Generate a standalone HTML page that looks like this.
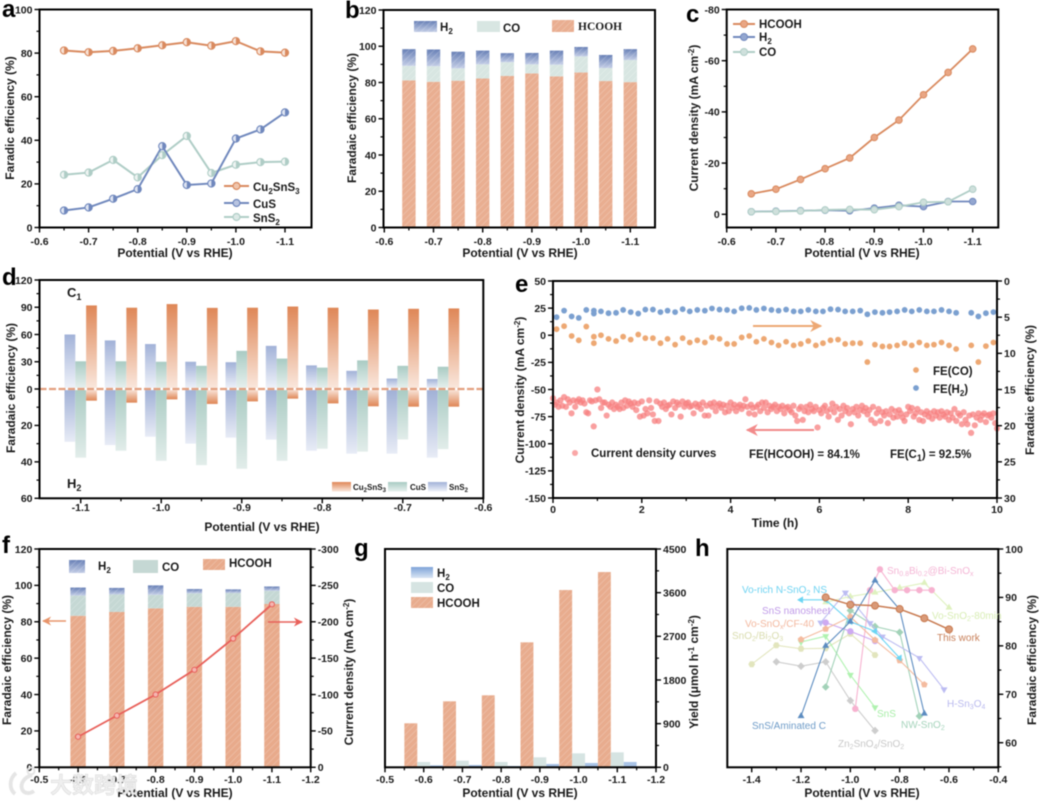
<!DOCTYPE html>
<html lang="en">
<head>
<meta charset="utf-8">
<title>Faradaic efficiency and electrocatalysis panels</title>
<style>
html,body{margin:0;padding:0;background:#fff;width:1040px;height:801px;overflow:hidden}
svg{display:block;filter:blur(0.6px)}
text{font-family:"Liberation Sans","Noto Sans CJK SC",sans-serif;font-weight:bold;fill:#1a1a1a}
.tick{font-size:10.5px}
.title{font-size:12px}
.letter{font-size:24px;fill:#000}
.leg{font-size:11.5px}
.small{font-size:8px}
.serif{font-family:"Liberation Serif",serif}
.lab{font-size:10px;font-weight:normal}
</style>
</head>
<body>
<svg id="figure" xmlns="http://www.w3.org/2000/svg" width="1040" height="801" viewBox="0 0 1040 801">
<defs>
<pattern id="hatch" width="4.5" height="4.5" patternUnits="userSpaceOnUse" patternTransform="rotate(45)"><rect width="1" height="4.5" fill="#fff" fill-opacity="0.18"/></pattern>
<linearGradient id="h2Grad" x1="0" y1="0" x2="0" y2="1"><stop offset="0" stop-color="#6880b6"/><stop offset="1" stop-color="#c3cde6"/></linearGradient>
<linearGradient id="h2GradG" x1="0" y1="0" x2="0" y2="1"><stop offset="0" stop-color="#7fa4d8"/><stop offset="1" stop-color="#d8e4f4"/></linearGradient>
<linearGradient id="snTop" x1="0" y1="0" x2="0" y2="1"><stop offset="0" stop-color="#a2b2d8"/><stop offset="1" stop-color="#f0f3fa"/></linearGradient>
<linearGradient id="snBot" x1="0" y1="0" x2="0" y2="1"><stop offset="0" stop-color="#a0b0d6"/><stop offset="1" stop-color="#e8ecf6"/></linearGradient>
<linearGradient id="cuTop" x1="0" y1="0" x2="0" y2="1"><stop offset="0" stop-color="#a9cbc3"/><stop offset="1" stop-color="#e8f1ef"/></linearGradient>
<linearGradient id="cuBot" x1="0" y1="0" x2="0" y2="1"><stop offset="0" stop-color="#a9cbc3"/><stop offset="1" stop-color="#e2edea"/></linearGradient>
<linearGradient id="czTop" x1="0" y1="0" x2="0" y2="1"><stop offset="0" stop-color="#df8757"/><stop offset="1" stop-color="#fae8de"/></linearGradient>
<linearGradient id="czBot" x1="0" y1="0" x2="0" y2="1"><stop offset="0" stop-color="#fae8de"/><stop offset="1" stop-color="#df8757"/></linearGradient>
<marker id="arrowO" viewBox="0 0 10 10" refX="9" refY="5" markerWidth="14" markerHeight="12" markerUnits="userSpaceOnUse" orient="auto"><path d="M0 0L10 5L0 10L3 5Z" fill="#eda873"/></marker>
<marker id="arrowR" viewBox="0 0 10 10" refX="9" refY="5" markerWidth="14" markerHeight="12" markerUnits="userSpaceOnUse" orient="auto"><path d="M0 0L10 5L0 10L3 5Z" fill="#f28a8a"/></marker>
<marker id="arrowS" viewBox="0 0 10 10" refX="9" refY="5" markerWidth="11" markerHeight="9" markerUnits="userSpaceOnUse" orient="auto"><path d="M0 0L10 5L0 10L3 5Z" fill="#e8946a"/></marker>
<marker id="arrowT" viewBox="0 0 10 10" refX="9" refY="5" markerWidth="11" markerHeight="9" markerUnits="userSpaceOnUse" orient="auto"><path d="M0 0L10 5L0 10L3 5Z" fill="#e8605a"/></marker>
</defs>

<g id="panel-a"></g>
<g id="panel-b"></g>
<g id="panel-c"></g>
<g id="panel-d"></g>
<g id="panel-e"></g>
<g id="panel-f"></g>
<g id="panel-g"></g>
<g id="panel-h"></g>

<!-- panel letters -->
<text class="letter" x="2" y="17">a</text>
<text class="letter" x="345" y="18">b</text>
<text class="letter" x="686" y="22">c</text>
<text class="letter" x="2" y="285">d</text>
<text class="letter" x="515" y="292">e</text>
<text class="letter" x="2" y="553">f</text>
<text class="letter" x="354" y="556">g</text>
<text class="letter" x="695" y="556">h</text>

<!-- axis titles -->
<text class="title" text-anchor="middle" x="175" y="257">Potential (V vs RHE)</text>
<text class="title" text-anchor="middle" x="520" y="257">Potential (V vs RHE)</text>
<text class="title" text-anchor="middle" x="862" y="257">Potential (V vs RHE)</text>
<text class="title" text-anchor="middle" x="262" y="531">Potential (V vs RHE)</text>
<text class="title" text-anchor="middle" x="775" y="527">Time (h)</text>
<text class="title" text-anchor="middle" x="175" y="797">Potential (V vs RHE)</text>
<text class="title" text-anchor="middle" x="520" y="797">Potential (V vs RHE)</text>
<text class="title" text-anchor="middle" x="862" y="797">Potential (V vs RHE)</text>

<text class="title" text-anchor="middle" transform="translate(14,118) rotate(-90)">Faradic efficiency (%)</text>
<text class="title" text-anchor="middle" transform="translate(356,118) rotate(-90)">Faradaic efficiency (%)</text>
<text class="title" text-anchor="middle" transform="translate(698,118) rotate(-90)">Current density (mA cm<tspan font-size="8" dy="-4">-2</tspan><tspan dy="4">)</tspan></text>
<text class="title" text-anchor="middle" transform="translate(15,388) rotate(-90)">Faradaic efficiency (%)</text>
<text class="title" text-anchor="middle" transform="translate(524,390) rotate(-90)">Current density (mA cm<tspan font-size="8" dy="-4">-2</tspan><tspan dy="4">)</tspan></text>
<text class="title" text-anchor="middle" transform="translate(1034,390) rotate(-90)">Faradaic efficiency (%)</text>
<text class="title" text-anchor="middle" transform="translate(11,660) rotate(-90)">Faradaic efficiency (%)</text>
<text class="title" text-anchor="middle" transform="translate(353,672) rotate(-90)">Current density (mA cm<tspan font-size="8" dy="-4">-2</tspan><tspan dy="4">)</tspan></text>
<text class="title" text-anchor="middle" transform="translate(698,672) rotate(-90)">Yield (μmol h<tspan font-size="8" dy="-4">-1</tspan><tspan dy="4"> cm</tspan><tspan font-size="8" dy="-4">-2</tspan><tspan dy="4">)</tspan></text>
<text class="title" text-anchor="middle" transform="translate(1036,660) rotate(-90)">Faradaic efficiency (%)</text>

<!-- legend a -->
<g>
<line x1="224" x2="249" y1="186" y2="186" stroke="#d98a5f" stroke-width="2"/>
<circle cx="236.5" cy="186" r="3.5" fill="#f0c5ac" stroke="#d98a5f" stroke-width="1.2"/>
<text class="leg" x="253" y="191">Cu<tspan font-size="8" dy="3">2</tspan><tspan dy="-3">SnS</tspan><tspan font-size="8" dy="3">3</tspan></text>
<line x1="224" x2="249" y1="203" y2="203" stroke="#7088bd" stroke-width="2"/>
<circle cx="236.5" cy="203" r="3.5" fill="#b8c4e0" stroke="#7088bd" stroke-width="1.2"/>
<text class="leg" x="253" y="208">CuS</text>
<line x1="224" x2="249" y1="217" y2="217" stroke="#afcdc6" stroke-width="2"/>
<circle cx="236.5" cy="217" r="3.5" fill="#dce9e6" stroke="#afcdc6" stroke-width="1.2"/>
<text class="leg" x="253" y="222">SnS<tspan font-size="8" dy="3">2</tspan></text>
</g>

<!-- legend b -->
<g>
<rect x="414" y="21" width="23" height="11" fill="url(#h2Grad)"/>
<rect x="414" y="21" width="23" height="11" fill="url(#hatch)"/>
<text class="leg" x="440" y="31">H<tspan font-size="8" dy="3">2</tspan></text>
<rect x="477" y="21" width="23" height="11" fill="#d8e6e2"/>
<text class="leg" x="503" y="32">CO</text>
<rect x="552" y="20" width="22" height="12" fill="#e9ae91"/>
<rect x="552" y="20" width="22" height="12" fill="url(#hatch)"/>
<text class="leg serif" x="578" y="30">HCOOH</text>
</g>

<!-- legend c -->
<g>
<line x1="733" x2="755" y1="24" y2="24" stroke="#d98a5f" stroke-width="2"/>
<circle cx="744" cy="24" r="3.5" fill="#e9a684" stroke="#d98a5f"/>
<text class="leg" x="759" y="28">HCOOH</text>
<line x1="733" x2="755" y1="37" y2="37" stroke="#7088bd" stroke-width="2"/>
<circle cx="744" cy="37" r="3.5" fill="#93a6d0" stroke="#7088bd"/>
<text class="leg" x="759" y="41">H<tspan font-size="8" dy="3">2</tspan></text>
<line x1="733" x2="755" y1="52" y2="52" stroke="#afcdc6" stroke-width="2"/>
<circle cx="744" cy="52" r="3.5" fill="#cfe0dc" stroke="#afcdc6"/>
<text class="leg" x="759" y="56">CO</text>
</g>

<!-- legend d -->
<g>
<text x="67" y="297" font-size="13">C<tspan font-size="9" dy="3">1</tspan></text>
<text x="67" y="488" font-size="13">H<tspan font-size="9" dy="3">2</tspan></text>
<rect x="332" y="482" width="19" height="9.5" fill="url(#czTop)"/>
<text class="small" x="353" y="490">Cu<tspan font-size="6" dy="2">2</tspan><tspan dy="-2">SnS</tspan><tspan font-size="6" dy="2">3</tspan></text>
<rect x="388" y="482" width="19" height="9.5" fill="url(#cuTop)"/>
<text class="small" x="410" y="490">CuS</text>
<rect x="428" y="482" width="19" height="9.5" fill="url(#snTop)"/>
<text class="small" x="449" y="490">SnS<tspan font-size="6" dy="2">2</tspan></text>
</g>

<!-- annotations e -->
<g>
<line x1="753" x2="821" y1="326" y2="326" stroke="#eda873" stroke-width="2" marker-end="url(#arrowO)"/>
<line x1="814" x2="747" y1="430" y2="430" stroke="#f28a8a" stroke-width="2" marker-end="url(#arrowR)"/>
<circle cx="575" cy="453" r="3" fill="#f88a8a" fill-opacity="0.75"/>
<text class="leg" x="591" y="457">Current density curves</text>
<text class="leg" x="749" y="458">FE(HCOOH) = 84.1%</text>
<text class="leg" x="890" y="458">FE(C<tspan font-size="9" dy="3">1</tspan><tspan dy="-3">) = 92.5%</tspan></text>
<circle cx="916" cy="370" r="2.9" fill="#eda873"/>
<text class="leg" x="933" y="375">FE(CO)</text>
<circle cx="916" cy="388" r="2.9" fill="#7ba0d0"/>
<text class="leg" x="933" y="393">FE(H<tspan font-size="8" dy="3">2</tspan><tspan dy="-3">)</tspan></text>
</g>

<!-- legend f -->
<g>
<rect x="69" y="560" width="16" height="13" fill="url(#h2Grad)"/>
<rect x="69" y="560" width="16" height="13" fill="url(#hatch)"/>
<text class="leg" x="98" y="570">H<tspan font-size="8" dy="3">2</tspan></text>
<rect x="133" y="560" width="25" height="13" fill="#c5d8d4"/>
<text class="leg" x="162" y="571">CO</text>
<rect x="203" y="559" width="22" height="11" fill="#e8aa8b"/>
<rect x="203" y="559" width="22" height="11" fill="url(#hatch)"/>
<text class="leg" x="229" y="567">HCOOH</text>
<line x1="66" x2="43" y1="621" y2="621" stroke="#e8946a" stroke-width="1.5" marker-end="url(#arrowS)"/>
<line x1="268" x2="302" y1="622" y2="622" stroke="#e8605a" stroke-width="1.5" marker-end="url(#arrowT)"/>
</g>

<!-- legend g -->
<g>
<rect x="411" y="567" width="22" height="11" fill="url(#h2GradG)"/>
<text class="leg" x="437" y="577">H<tspan font-size="8" dy="3">2</tspan></text>
<rect x="411" y="582" width="22" height="11" fill="#d6e4e2"/>
<text class="leg" x="437" y="592">CO</text>
<rect x="411" y="597" width="22" height="11" fill="#e8ac8e"/>
<rect x="411" y="597" width="22" height="11" fill="url(#hatch)"/>
<text class="leg" x="437" y="607">HCOOH</text>
</g>

<!-- labels h -->
<g>
<text class="lab" x="887" y="574" style="fill:#f4b5d5">Sn<tspan font-size="7" dy="2">0.8</tspan><tspan dy="-2">Bi</tspan><tspan font-size="7" dy="2">0.2</tspan><tspan dy="-2">@Bi-SnO</tspan><tspan font-size="7" dy="2">x</tspan></text>
<text class="lab" x="742" y="593" style="fill:#6fd3f2">Vo-rich N-SnO<tspan font-size="7" dy="2">2</tspan><tspan dy="-2"> NS</tspan></text>
<text class="lab" x="762" y="614" style="fill:#c09be8">SnS nanosheet</text>
<text class="lab" x="745" y="627" style="fill:#f3b89f">Vo-SnO<tspan font-size="7" dy="2">x</tspan><tspan dy="-2">/CF-40</tspan></text>
<text class="lab" x="732" y="639" style="fill:#d9dcae">SnO<tspan font-size="7" dy="2">2</tspan><tspan dy="-2">/Bi</tspan><tspan font-size="7" dy="2">2</tspan><tspan dy="-2">O</tspan><tspan font-size="7" dy="2">3</tspan></text>
<text class="lab" x="937" y="641" style="fill:#c8805a">This work</text>
<text class="lab" x="932" y="619" style="fill:#d8edb4">Vo-SnO<tspan font-size="7" dy="2">2</tspan><tspan dy="-2">-80min</tspan></text>
<text class="lab" x="947" y="707" style="fill:#b9b9ee">H-Sn<tspan font-size="7" dy="2">3</tspan><tspan dy="-2">O</tspan><tspan font-size="7" dy="2">4</tspan></text>
<text class="lab" x="877" y="717" style="fill:#a8eea8">SnS</text>
<text class="lab" x="901" y="728" style="fill:#a6d4bc">NW-SnO<tspan font-size="7" dy="2">2</tspan></text>
<text class="lab" x="752" y="729" style="fill:#6f9cc8">SnS/Aminated C</text>
<text class="lab" x="838" y="747" style="fill:#c8c8c8">Zn<tspan font-size="7" dy="2">2</tspan><tspan dy="-2">SnO</tspan><tspan font-size="7" dy="2">4</tspan><tspan dy="-2">/SnO</tspan><tspan font-size="7" dy="2">2</tspan></text>
</g>

<!-- watermark -->
<g id="watermark" opacity="0.95">
<path d="M16 773C9 779 9 789 15 794M32 775C25 777 20 783 22 789C24 794 30 794 34 791" fill="none" stroke="#e4e4e4" stroke-width="3.8"/>
<circle cx="31" cy="771" r="3.5" fill="none" stroke="#e4e4e4" stroke-width="2"/>
<text x="50" y="793" font-size="22" style="fill:#efefef;stroke:#d6d6d6;stroke-width:0.5;font-weight:bold">大数跨境</text>
</g>

<script>
/* ---------- shared categories ---------- */
const potentials10 = [-0.65,-0.7,-0.75,-0.8,-0.85,-0.9,-0.95,-1.0,-1.05,-1.1];
const potentials6 = [-0.6,-0.7,-0.8,-0.9,-1.0,-1.1];
const potentialsD = [-1.1,-1.05,-1.0,-0.95,-0.9,-0.85,-0.8,-0.75,-0.7,-0.65];

/* ---------- panel a ---------- */
const aCu2SnS3 = [81.2,80.4,81,82.2,83.6,85,83.4,85.5,80.8,80.2];
const aCuS = [7.8,9.2,13.2,17.6,37.3,19.5,20.2,40.8,45,52.8];
const aSnS2 = [24.2,25.2,31,23,33.2,42,25,28.8,30,30.2];
const aXTicks = [-0.6,-0.7,-0.8,-0.9,-1.0,-1.1];
const aXLabels = ['-0.6','-0.7','-0.8','-0.9','-1.0','-1.1'];
const aYTicks = [0,20,40,60,80,100];
const aYLabels = ['0','20','40','60','80','100'];

/* ---------- panel b ---------- */
const bHCOOH = [81.2,80.4,81,82.2,83.6,85,83.4,85.5,80.8,80.2];
const bCO = [8,8.6,6.8,7.8,7.6,5,6.4,8.9,7.2,12.2];
const bH2 = [9.2,9.2,9.2,7.6,5,6.3,7.8,5.2,7.2,6];
const bYTicks = [0,20,40,60,80,100,120];
const bYLabels = ['0','20','40','60','80','100','120'];

/* ---------- panel c ---------- */
const cHCOOH = [-8,-9.8,-13.6,-17.8,-22,-30,-36.8,-46.7,-55.4,-64.6];
const cH2 = [-1,-1.2,-1.4,-1.6,-1.4,-2.4,-3.5,-3,-5,-5];
const cCO = [-1,-1.1,-1.3,-1.7,-1.9,-1.8,-3,-4.7,-4.9,-9.8];
const cYTicks = [0,-20,-40,-60,-80];
const cYLabels = ['0','-20','-40','-60','-80'];

/* ---------- panel d ---------- */
const dC1SnS2 = [60,53.5,49.5,30,29.5,47.5,26,20,11.5,11];
const dC1CuS = [30.5,30.5,30,25.5,42,33.5,23.5,31.5,25.5,24.5];
const dC1Cu2SnS3 = [92,89.5,93.5,89.3,89.5,90.8,89.5,87.5,88.3,88.7];
const dH2SnS2 = [29,30.8,26.2,30,26.7,27.8,33.9,35.5,35.5,37.7];
const dH2CuS = [37.7,33.9,39.4,41.8,43.8,39.4,32.8,34.4,27.7,33];
const dH2Cu2SnS3 = [6.4,7.5,5.7,8.2,6.8,5.3,7.9,9.5,9.7,9.7];
const dXTicks = [-1.1,-1.0,-0.9,-0.8,-0.7,-0.6];
const dXLabels = ['-1.1','-1.0','-0.9','-0.8','-0.7','-0.6'];
const dTopTicks = [0,30,60,90,120];
const dTopLabels = ['0','30','60','90','120'];
const dBotTicks = [20,40,60];
const dBotLabels = ['20','40','60'];

/* ---------- panel e ---------- */
const eSampleHours = 1/24;
const eCurrent = [
-58,-64,-62,-66,-60,-65,-57,-66,-59,-62,-72,-60,-66,-61,-59,-62,-60,-63,-71,-72,-60,-61,-84,-60,
-50,-59,-67,-62,-62,-74,-64,-66,-62,-68,-64,-66,-68,-62,-67,-60,-65,-61,-63,-66,-62,-69,-63,-75,
-61,-74,-68,-72,-60,-67,-73,-79,-61,-79,-63,-66,-62,-68,-65,-64,-73,-61,-67,-62,-64,-75,-61,-66,
-63,-62,-66,-65,-72,-63,-66,-64,-68,-62,-74,-65,-74,-63,-66,-62,-70,-65,-63,-67,-64,-71,-65,-70,
-62,-67,-64,-70,-66,-64,-68,-65,-59,-66,-72,-64,-67,-73,-66,-64,-70,-62,-67,-62,-71,-65,-68,-66,
-64,-70,-66,-68,-65,-72,-67,-66,-69,-71,-65,-74,-79,-68,-66,-78,-70,-66,-71,-64,-68,-70,-66,-85,
-69,-72,-67,-65,-70,-75,-68,-63,-71,-66,-78,-68,-74,-65,-70,-67,-72,-82,-68,-71,-66,-74,-69,-65,
-70,-67,-73,-69,-78,-66,-81,-72,-68,-79,-71,-74,-70,-81,-73,-68,-76,-70,-75,-69,-72,-76,-79,-73,
-66,-70,-67,-75,-72,-68,-78,-71,-79,-73,-70,-75,-72,-77,-70,-74,-71,-76,-70,-73,-75,-71,-78,-72,
-76,-68,-79,-72,-74,-82,-71,-78,-82,-74,-90,-73,-83,-76,-72,-78,-74,-72,-80,-74,-73,-76,-72,-81,-86];
const eFeTimes = [0.08,0.25,0.42,0.58,0.75,0.92,0.92,1.08,1.25,1.42,1.58,1.75,1.92,2.08,2.25,2.42,2.58,2.75,2.92,3.08,3.25,3.42,3.58,3.75,3.92,4.08,4.25,4.42,4.58,4.75,4.92,5.08,5.25,5.42,5.58,5.75,5.92,6.08,6.25,6.42,6.58,6.75,6.92,7.08,7.25,7.42,7.58,7.75,7.92,8.08,8.25,8.42,8.58,8.75,8.92,9.08,9.42,9.58,9.75,9.92];
const eFeCO = [6.66,6.25,7.6,8.2,6.3,7.7,8.6,7.5,8,8.3,7.7,8.1,7.4,7.9,7.9,8.6,8,8.8,7.9,8.5,8.2,8.5,7.8,8,8.7,8.7,7.8,7.6,8.4,8,8.5,8.9,8.4,8.9,8.7,8.3,8.9,8.6,8.2,8.1,8.7,8.6,8.6,11.2,8.8,9.05,9.05,8.9,8.6,8.9,8.5,8.9,8.8,8.5,8.9,9.4,8.9,11.2,9,8.5];
const eFeH2 = [5,4.1,4.9,5.1,4,4.1,4.5,4.2,4.45,4.4,4,4.3,4.5,3.95,3.95,4.3,4.1,4.3,3.9,4.2,4,4.1,3.8,3.95,4,4.2,3.77,3.72,4,3.8,4,4.1,3.95,4.2,4.2,4,4.2,4.2,3.9,3.95,4.2,4.2,4.1,4.6,4.3,4.4,4.3,4.2,4,4.2,4,4.2,4.2,4,4.2,4.4,4.4,4.9,4.45,4.3];
const eXTicks = [0,2,4,6,8,10];
const eXLabels = ['0','2','4','6','8','10'];
const eYTicks = [50,25,0,-25,-50,-75,-100,-125,-150];
const eYLabels = ['50','25','0','-25','-50','-75','-100','-125','-150'];
const eRightTicks = [0,5,10,15,20,25,30];
const eRightLabels = ['0','5','10','15','20','25','30'];

/* ---------- panel f ---------- */
const fHCOOH = [83.3,85.4,87.4,88.2,88.2,89.8];
const fCO = [11.1,9.6,7.4,7.4,7.6,7.2];
const fH2 = [4.4,3.6,5.2,2.4,2,2.4];
const fCurrent = [-42,-71,-100,-134,-177,-224];
const fXTicks = [-0.5,-0.6,-0.7,-0.8,-0.9,-1.0,-1.1,-1.2];
const fXLabels = ['-0.5','-0.6','-0.7','-0.8','-0.9','-1.0','-1.1','-1.2'];
const fRightTicks = [0,-50,-100,-150,-200,-250,-300];
const fRightLabels = ['0','-50','-100','-150','-200','-250','-300'];

/* ---------- panel g ---------- */
const gHCOOH = [907,1360,1484,2576,3654,4025];
const gCO = [110,137,110,206,288,309];
const gH2 = [41,48,27,69,89,110];
const gRightTicks = [0,900,1800,2700,3600,4500];
const gRightLabels = ['0','900','1800','2700','3600','4500'];

/* ---------- panel h ---------- */
const hXTicks = [-1.4,-1.2,-1.0,-0.8,-0.6,-0.4];
const hXLabels = ['-1.4','-1.2','-1.0','-0.8','-0.6','-0.4'];
const hRightTicks = [60,70,80,90,100];
const hRightLabels = ['60','70','80','90','100'];
const hZnV = [-1.3,-1.2,-1.1,-1.0,-0.9];
const hZnFE = [76.7,75.8,76.7,68.7,62.5];
const hBiV = [-1.4,-1.3,-1.2,-1.1,-1.0,-0.9];
const hBiFE = [76.2,80.1,79.4,79.5,82.5,78.1];
const hSnSV = [-1.2,-1.1,-1.0,-0.9];
const hSnSFE = [80.8,82,74,67.3];
const hNwV = [-1.1,-1.0,-0.9,-0.8,-0.72];
const hNwFE = [71.5,87.3,84,82.8,65.5];
const hVo80V = [-1.1,-1.0,-0.9,-0.8,-0.7,-0.6];
const hVo80FE = [89,90.2,91,92,93,87.9];
const hPinkV = [-0.98,-0.92,-0.88,-0.82,-0.77,-0.72,-0.67];
const hPinkFE = [67,91.5,95.8,91.5,91.5,91.5,91.5];
const hHsnV = [-1.12,-1.02,-0.92,-0.87,-0.72,-0.62];
const hHsnFE = [84.8,91,84.7,81.9,77.5,71];
const hNanoV = [-1.1,-1.0,-0.9];
const hNanoFE = [84.8,83,81];
const hCfV = [-1.2,-1.1,-1.0,-0.9,-0.8,-0.7];
const hCfFE = [81.3,83.5,86,81.2,77,72];
const hCyanV = [-1.2,-1.1,-1.0,-0.9,-0.8];
const hCyanFE = [89.5,89.5,85,83,77.5];
const hAminV = [-1.2,-1.1,-1.0,-0.9,-0.8,-0.7];
const hAminFE = [65.5,80,85,93.5,87.5,66];
const hThisV = [-1.1,-1.0,-0.9,-0.8,-0.7,-0.6];
const hThisFE = [90,88.5,88.3,87.6,85.7,83.4];

/* ---------- helpers ---------- */
const NS = 'http://www.w3.org/2000/svg';
function make(parent, tag, attrs, name) {
  const e = document.createElementNS(NS, tag);
  for (const k in attrs) e.setAttribute(k, attrs[k]);
  
  
  parent.appendChild(e);
  return e;
}
function linear(d0, d1, r0, r1) {
  return function (v) { return r0 + (v - d0) * (r1 - r0) / (d1 - d0); };
}
function tickLabel(g, x, y, label, anchor, name) {
  const t = make(g, 'text', {x: x, y: y, 'text-anchor': anchor, 'class': 'tick'}, name);
  t.textContent = label;
}
function axisX(g, box, sx, ticks, labels, labelY, id) {
  ticks.forEach(function (v, i) {
    const px = sx(v);
    make(g, 'line', {x1: px, x2: px, y1: box.b, y2: box.b + 5, stroke: '#000', 'stroke-width': 1.4}, 'x-tick-' + id);
    tickLabel(g, px, labelY, labels[i], 'middle', 'x-tick-label-' + id);
    if (i + 1 < ticks.length) {
      const mid = sx((v + ticks[i + 1]) / 2);
      make(g, 'line', {x1: mid, x2: mid, y1: box.b, y2: box.b + 3, stroke: '#000', 'stroke-width': 1.2}, 'x-minor-tick-' + id);
    }
  });
}
function axisY(g, box, sy, ticks, labels, side, id) {
  const edge = side === 'left' ? box.l : box.r;
  const dir = side === 'left' ? -1 : 1;
  ticks.forEach(function (v, i) {
    const py = sy(v);
    make(g, 'line', {x1: edge, x2: edge + dir * 5, y1: py, y2: py, stroke: '#000', 'stroke-width': 1.4}, 'y-tick-' + id);
    tickLabel(g, edge + dir * 7, py + 3.8, labels[i], side === 'left' ? 'end' : 'start', 'y-tick-label-' + id);
    if (i + 1 < ticks.length) {
      const mid = sy((v + ticks[i + 1]) / 2);
      make(g, 'line', {x1: edge, x2: edge + dir * 3, y1: mid, y2: mid, stroke: '#000', 'stroke-width': 1.2}, 'y-minor-tick-' + id);
    }
  });
}
function frame(g, box, id) {
  make(g, 'rect', {x: box.l, y: box.t, width: box.r - box.l, height: box.b - box.t, fill: 'none', stroke: '#000', 'stroke-width': 2}, 'plot-frame-' + id);
}
function pathOf(xs, ys, sx, sy) {
  return xs.map(function (v, i) { return (i ? 'L' : 'M') + sx(v).toFixed(2) + ' ' + sy(ys[i]).toFixed(2); }).join('');
}
function polyline(g, xs, ys, sx, sy, color, width, name) {
  make(g, 'path', {d: pathOf(xs, ys, sx, sy), fill: 'none', stroke: color, 'stroke-width': width}, name);
}
function halfMarkers(g, xs, ys, sx, sy, dark, pale, name) {
  xs.forEach(function (v, i) {
    const cx = sx(v), cy = sy(ys[i]);
    make(g, 'circle', {cx: cx, cy: cy, r: 3.6, fill: pale, stroke: dark, 'stroke-width': 1.1}, name);
    make(g, 'path', {d: 'M' + cx + ' ' + (cy - 3.6) + 'A3.6 3.6 0 0 1 ' + cx + ' ' + (cy + 3.6) + 'Z', fill: dark}, name + '-half');
  });
}
function balls(g, xs, ys, sx, sy, stroke, fill, r, name) {
  xs.forEach(function (v, i) {
    make(g, 'circle', {cx: sx(v), cy: sy(ys[i]), r: r, fill: fill, stroke: stroke, 'stroke-width': 1}, name);
  });
}
function stackedBars(g, cats, layers, sx, sy, width, name) {
  cats.forEach(function (c, i) {
    let base = 0;
    layers.forEach(function (layer) {
      const v = layer.values[i];
      const y1 = sy(base + v), y0 = sy(base);
      const attrs = {x: sx(c) - width / 2, y: y1, width: width, height: y0 - y1};
      make(g, 'rect', Object.assign({fill: layer.fill}, attrs), 'bar-' + layer.key + '-' + name);
      if (layer.hatch) {
        make(g, 'rect', Object.assign({fill: 'url(#hatch)'}, attrs), 'bar-hatch-' + layer.key + '-' + name);
      }
      base += v;
    });
  });
}
function regular(cx, cy, r, sides, rotation) {
  const pts = [];
  for (let k = 0; k < sides; k++) {
    const a = rotation + k * 2 * Math.PI / sides;
    pts.push((cx + r * Math.cos(a)).toFixed(2) + ',' + (cy + r * Math.sin(a)).toFixed(2));
  }
  return pts.join(' ');
}
function shapeMarkers(g, xs, ys, sx, sy, color, shape, name) {
  xs.forEach(function (v, i) {
    const cx = sx(v), cy = sy(ys[i]);
    if (shape === 'circle') {
      make(g, 'circle', {cx: cx, cy: cy, r: 3.2, fill: color}, name);
    } else {
      const spec = {up: [3, -Math.PI / 2, 4], down: [3, Math.PI / 2, 4], left: [3, Math.PI, 4], diamond: [4, 0, 3.8], pentagon: [5, -Math.PI / 2, 3.5], hexagon: [6, 0, 3.4]}[shape];
      make(g, 'polygon', {points: regular(cx, cy, spec[2], spec[0], spec[1]), fill: color}, name);
    }
  });
}

/* ---------- panel a ---------- */
(function () {
  const g = document.getElementById('panel-a');
  const box = {l: 39.5, r: 311.5, t: 9.5, b: 227.5};
  const sx = linear(-0.6, -1.1, 39.5, 285);
  const sy = linear(0, 100, 227.5, 9.5);
  polyline(g, potentials10, aSnS2, sx, sy, '#afcdc6', 2, 'line-sns2');
  polyline(g, potentials10, aCuS, sx, sy, '#7088bd', 2, 'line-cus');
  polyline(g, potentials10, aCu2SnS3, sx, sy, '#d98a5f', 2, 'line-cu2sns3');
  halfMarkers(g, potentials10, aSnS2, sx, sy, '#afcdc6', '#eef4f2', 'point-sns2');
  halfMarkers(g, potentials10, aCuS, sx, sy, '#7088bd', '#dfe5f2', 'point-cus');
  halfMarkers(g, potentials10, aCu2SnS3, sx, sy, '#d98a5f', '#f7e2d6', 'point-cu2sns3');
  axisX(g, box, sx, aXTicks, aXLabels, 245, 'a');
  axisY(g, box, sy, aYTicks, aYLabels, 'left', 'a');
  frame(g, box, 'a');
})();

/* ---------- panel b ---------- */
(function () {
  const g = document.getElementById('panel-b');
  const box = {l: 383.5, r: 655, t: 10, b: 227.5};
  const sx = linear(-0.6, -1.1, 384.3, 630.3);
  const sy = linear(0, 120, 227.5, 10);
  stackedBars(g, potentials10, [
    {key: 'hcooh', values: bHCOOH, fill: '#e9ae91', hatch: true},
    {key: 'co', values: bCO, fill: '#d8e6e2', hatch: true},
    {key: 'h2', values: bH2, fill: 'url(#h2Grad)', hatch: true}
  ], sx, sy, 13.4, 'b');
  axisX(g, box, sx, aXTicks, aXLabels, 245, 'b');
  axisY(g, box, sy, bYTicks, bYLabels, 'left', 'b');
  frame(g, box, 'b');
})();

/* ---------- panel c ---------- */
(function () {
  const g = document.getElementById('panel-c');
  const box = {l: 726.7, r: 998.3, t: 9.5, b: 227.5};
  const sx = linear(-0.6, -1.1, 726.7, 972.7);
  const sy = linear(0, -80, 214.3, 9.5);
  polyline(g, potentials10, cH2, sx, sy, '#7088bd', 1.8, 'line-h2');
  balls(g, potentials10, cH2, sx, sy, '#7088bd', '#93a6d0', 3.3, 'point-h2');
  polyline(g, potentials10, cCO, sx, sy, '#afcdc6', 1.8, 'line-co');
  balls(g, potentials10, cCO, sx, sy, '#afcdc6', '#cfe0dc', 3.3, 'point-co');
  polyline(g, potentials10, cHCOOH, sx, sy, '#d98a5f', 1.8, 'line-hcooh');
  balls(g, potentials10, cHCOOH, sx, sy, '#d98a5f', '#e9a684', 3.3, 'point-hcooh');
  axisX(g, box, sx, aXTicks, aXLabels, 245, 'c');
  axisY(g, box, sy, cYTicks, cYLabels, 'left', 'c');
  frame(g, box, 'c');
})();

/* ---------- panel d ---------- */
(function () {
  const g = document.getElementById('panel-d');
  const box = {l: 39.5, r: 483.3, t: 280, b: 498.3};
  const sx = linear(-1.1, -0.6, 80.7, 483.3);
  const syTop = linear(0, 120, 389, 280);
  const syBot = linear(0, 60, 389, 498.3);
  const barW = 10.8;
  const offsets = {sn: -10.8, cu: 0, cz: 10.8};
  function topBar(v, cat, off, fill, name) {
    make(g, 'rect', {x: sx(cat) + off - barW / 2, y: syTop(v), width: barW, height: syTop(0) - syTop(v), fill: fill}, name);
  }
  function botBar(v, cat, off, fill, name) {
    make(g, 'rect', {x: sx(cat) + off - barW / 2, y: syBot(0), width: barW, height: syBot(v) - syBot(0), fill: fill}, name);
  }
  potentialsD.forEach(function (cat, i) {
    topBar(dC1SnS2[i], cat, offsets.sn, 'url(#snTop)', 'bar-c1-sns2');
    topBar(dC1CuS[i], cat, offsets.cu, 'url(#cuTop)', 'bar-c1-cus');
    topBar(dC1Cu2SnS3[i], cat, offsets.cz, 'url(#czTop)', 'bar-c1-cu2sns3');
    botBar(dH2SnS2[i], cat, offsets.sn, 'url(#snBot)', 'bar-h2-sns2');
    botBar(dH2CuS[i], cat, offsets.cu, 'url(#cuBot)', 'bar-h2-cus');
    botBar(dH2Cu2SnS3[i], cat, offsets.cz, 'url(#czBot)', 'bar-h2-cu2sns3');
  });
  make(g, 'line', {x1: box.l, x2: box.r, y1: syTop(0), y2: syTop(0), stroke: '#fff', 'stroke-width': 2.2}, 'zero-line-backing');
  make(g, 'line', {x1: box.l, x2: box.r, y1: syTop(0), y2: syTop(0), stroke: '#e39f7e', 'stroke-width': 2.2, 'stroke-dasharray': '7 2.5'}, 'zero-line');
  axisX(g, box, sx, dXTicks, dXLabels, 511, 'd');
  axisY(g, box, syTop, dTopTicks, dTopLabels, 'left', 'd-top');
  axisY(g, box, syBot, dBotTicks, dBotLabels, 'left', 'd-bottom');
  make(g, 'line', {x1: box.l, x2: box.l - 3, y1: syBot(10), y2: syBot(10), stroke: '#000', 'stroke-width': 1.2}, 'y-minor-tick-d-bottom');
  frame(g, box, 'd');
})();

/* ---------- panel e ---------- */
(function () {
  const g = document.getElementById('panel-e');
  const box = {l: 553, r: 997, t: 281, b: 498};
  const sx = linear(0, 10, 553, 997);
  const sy = linear(50, -150, 281, 498);
  const syR = linear(0, 30, 281, 498);
  eCurrent.forEach(function (v, i) {
    make(g, 'circle', {cx: sx(i * eSampleHours), cy: sy(v), r: 3.1, fill: '#f77f7f', 'fill-opacity': 0.75}, 'point-current-density');
  });
  eFeTimes.forEach(function (t, i) {
    make(g, 'circle', {cx: sx(t), cy: syR(eFeCO[i]), r: 2.9, fill: '#eda873'}, 'point-fe-co');
    make(g, 'circle', {cx: sx(t), cy: syR(eFeH2[i]), r: 2.9, fill: '#7ba0d0'}, 'point-fe-h2');
  });
  axisX(g, box, sx, eXTicks, eXLabels, 513, 'e');
  axisY(g, box, sy, eYTicks, eYLabels, 'left', 'e');
  axisY(g, box, syR, eRightTicks, eRightLabels, 'right', 'e-right');
  frame(g, box, 'e');
})();

/* ---------- panel f ---------- */
(function () {
  const g = document.getElementById('panel-f');
  const box = {l: 39.3, r: 310.7, t: 549, b: 767.3};
  const sx = linear(-0.5, -1.2, 39.3, 310.7);
  const sy = linear(0, 120, 767.3, 549);
  const syR = linear(0, -300, 767.3, 549);
  stackedBars(g, potentials6, [
    {key: 'hcooh', values: fHCOOH, fill: '#e8aa8b', hatch: true},
    {key: 'co', values: fCO, fill: '#c5d8d4', hatch: true},
    {key: 'h2', values: fH2, fill: 'url(#h2Grad)', hatch: true}
  ], sx, sy, 15.4, 'f');
  polyline(g, potentials6, fCurrent, sx, syR, '#e8605a', 1.8, 'line-current-density');
  balls(g, potentials6, fCurrent, sx, syR, '#e8605a', '#f5b5b0', 2.6, 'point-current-density-f');
  axisX(g, box, sx, fXTicks, fXLabels, 783, 'f');
  axisY(g, box, sy, bYTicks, bYLabels, 'left', 'f');
  axisY(g, box, syR, fRightTicks, fRightLabels, 'right', 'f-right');
  frame(g, box, 'f');
})();

/* ---------- panel g ---------- */
(function () {
  const g = document.getElementById('panel-g');
  const box = {l: 385, r: 656, t: 549, b: 767.3};
  const sx = linear(-0.5, -1.2, 385, 656);
  const sy = linear(0, 4500, 767.3, 549);
  const w = 12.9;
  potentials6.forEach(function (c, i) {
    const cx = sx(c);
    make(g, 'rect', {x: cx - 1.5 * w, y: sy(gHCOOH[i]), width: w, height: sy(0) - sy(gHCOOH[i]), fill: '#e8ac8e'}, 'bar-hcooh-g');
    make(g, 'rect', {x: cx - 1.5 * w, y: sy(gHCOOH[i]), width: w, height: sy(0) - sy(gHCOOH[i]), fill: 'url(#hatch)'}, 'bar-hatch-hcooh-g');
    make(g, 'rect', {x: cx - 0.5 * w, y: sy(gCO[i]), width: w, height: sy(0) - sy(gCO[i]), fill: '#d6e4e2'}, 'bar-co-g');
    make(g, 'rect', {x: cx + 0.5 * w, y: sy(gH2[i]), width: w, height: sy(0) - sy(gH2[i]), fill: '#a9c3e6'}, 'bar-h2-g');
  });
  axisX(g, box, sx, fXTicks, fXLabels, 783, 'g');
  axisY(g, box, sy, gRightTicks, gRightLabels, 'right', 'g');
  frame(g, box, 'g');
})();

/* ---------- panel h ---------- */
(function () {
  const g = document.getElementById('panel-h');
  const box = {l: 727.3, r: 998.3, t: 549, b: 767.3};
  const sx = linear(-1.4, -0.4, 751.7, 998.3);
  const sy = linear(60, 100, 742.7, 549);
  const series = [
    [hZnV, hZnFE, '#cdcdcd', 'diamond', 'zn2sno4-sno2'],
    [hBiV, hBiFE, '#e2e5bd', 'hexagon', 'sno2-bi2o3'],
    [hSnSV, hSnSFE, '#b0f2b0', 'down', 'sns'],
    [hNwV, hNwFE, '#a2d2b8', 'diamond', 'nw-sno2'],
    [hVo80V, hVo80FE, '#dff1bf', 'up', 'vo-sno2-80min'],
    [hPinkV, hPinkFE, '#f7b2d0', 'circle', 'sn-bi-sno'],
    [hHsnV, hHsnFE, '#bcbcf2', 'down', 'h-sn3o4'],
    [hNanoV, hNanoFE, '#cdaaf2', 'circle', 'sns-nanosheet'],
    [hCfV, hCfFE, '#f4bb9f', 'pentagon', 'vo-snox-cf40'],
    [hCyanV, hCyanFE, '#6cd5f3', 'left', 'vo-rich-n-sno2'],
    [hAminV, hAminFE, '#5c8cc0', 'up', 'sns-aminated-c']
  ];
  series.forEach(function (s) {
    polyline(g, s[0], s[1], sx, sy, s[2], 1.1, 'line-' + s[4]);
    shapeMarkers(g, s[0], s[1], sx, sy, s[2], s[3], 'point-' + s[4]);
  });
  polyline(g, hThisV, hThisFE, sx, sy, '#c87a50', 1.5, 'line-this-work');
  balls(g, hThisV, hThisFE, sx, sy, '#c87a50', '#d99a78', 3.5, 'point-this-work');
  axisX(g, box, sx, hXTicks, hXLabels, 783, 'h');
  axisY(g, box, sy, hRightTicks, hRightLabels, 'right', 'h');
  make(g, 'line', {x1: box.r, x2: box.r + 3, y1: sy(55), y2: sy(55), stroke: '#000', 'stroke-width': 1.2}, 'y-minor-tick-h');
  frame(g, box, 'h');
})();

/* keep static annotations and the watermark above the plots */
const figure = document.getElementById('figure');
figure.appendChild(document.getElementById('watermark'));
</script>
</svg>
</body>
</html>
